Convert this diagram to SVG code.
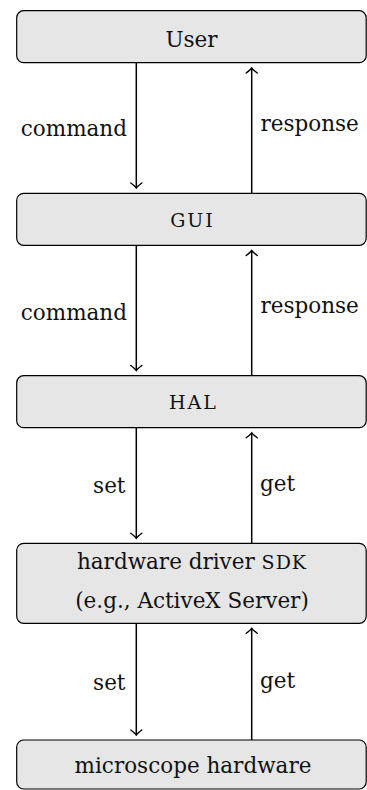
<svg xmlns="http://www.w3.org/2000/svg" width="367" height="790" viewBox="0 0 367 790">
<style>
.box{fill:#e6e6e6;stroke:#000;stroke-width:1.2}
.t{font-family:'DejaVu Serif',serif;font-size:21.5px;fill:#111}
.sc{font-size:19px;letter-spacing:2px}
.c{text-anchor:middle}
.r{text-anchor:end}
.line{stroke:#000;stroke-width:1.5;fill:none}
</style>
<defs>
<marker id="ah" viewBox="-7 -7 14 14" markerWidth="14" markerHeight="14" refX="0" refY="0" orient="auto" markerUnits="userSpaceOnUse">
<path d="M-5,-5.5 Q-1.5,-1 0,0 Q-1.5,1 -5,5.5" fill="none" stroke="#000" stroke-width="1.4" stroke-linecap="round"/>
</marker>
</defs>
<g id="user"><rect class="box" x="16.7" y="10.7" width="349.5" height="52" rx="7"/><text class="t c" x="191.5" y="46.5">User</text></g>
<g id="gui"><rect class="box" x="16.7" y="193.3" width="349.5" height="52" rx="7"/><text class="t sc c" x="192.5" y="227.3">GUI</text></g>
<g id="hal"><rect class="box" x="16.7" y="375.7" width="349.5" height="52" rx="7"/><text class="t sc c" x="193.5" y="409.3">HAL</text></g>
<g id="sdk"><rect class="box" x="16.7" y="543.3" width="349.5" height="80" rx="7"/><text class="t c" x="192" y="569.3">hardware driver <tspan class="sc" style="letter-spacing:1px">SDK</tspan></text><text class="t c" x="192" y="607.7">(e.g., ActiveX Server)</text></g>
<g id="hw"><rect class="box" x="16.7" y="740" width="349.5" height="49" rx="7"/><text class="t c" x="193" y="772.7">microscope hardware</text></g>
<g id="connectors">
<line class="line" x1="136.3" y1="62.7" x2="136.3" y2="188" marker-end="url(#ah)"/>
<line class="line" x1="251.7" y1="193.3" x2="251.7" y2="68" marker-end="url(#ah)"/>
<line class="line" x1="136.3" y1="245.3" x2="136.3" y2="370.5" marker-end="url(#ah)"/>
<line class="line" x1="251.7" y1="375.7" x2="251.7" y2="250.5" marker-end="url(#ah)"/>
<line class="line" x1="136.3" y1="427.7" x2="136.3" y2="538.3" marker-end="url(#ah)"/>
<line class="line" x1="251.7" y1="543.3" x2="251.7" y2="432.8" marker-end="url(#ah)"/>
<line class="line" x1="136.3" y1="623.3" x2="136.3" y2="735" marker-end="url(#ah)"/>
<line class="line" x1="251.7" y1="740" x2="251.7" y2="628.3" marker-end="url(#ah)"/>
<text class="t r" x="127" y="136">command</text>
<text class="t" x="260.5" y="130.5">response</text>
<text class="t r" x="127" y="320">command</text>
<text class="t" x="260.5" y="313">response</text>
<text class="t r" x="125.5" y="493.3">set</text>
<text class="t" x="260" y="490.7">get</text>
<text class="t r" x="125.5" y="690">set</text>
<text class="t" x="260" y="688">get</text>
</g>
</svg>
